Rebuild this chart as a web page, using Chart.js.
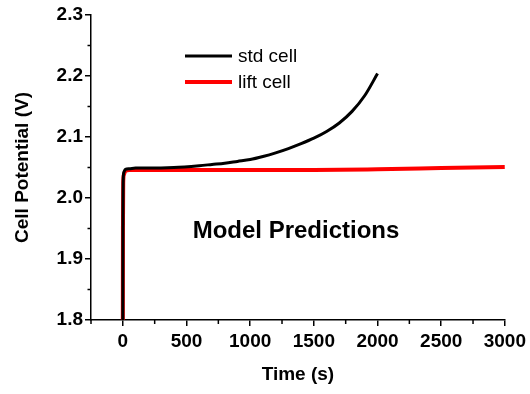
<!DOCTYPE html>
<html>
<head>
<meta charset="utf-8">
<script src="https://cdn.jsdelivr.net/npm/chart.js@4.4.0/dist/chart.umd.min.js"></script>
<style>
  html, body { margin: 0; padding: 0; background: #fff; }
  #wrap { width: 530px; height: 394px; }
</style>
</head>
<body>
<div id="wrap"><canvas id="grafica"></canvas></div>
<script>
// valores
const tiempoStd = [0, 1, 3, 8, 20, 50, 100, 200, 400, 600, 700, 800, 900, 1000, 1100, 1200, 1300, 1400, 1500, 1600, 1700, 1800, 1900, 2000];
const potencialStd = [1.80, 1.96, 2.030, 2.042, 2.047, 2.048, 2.049, 2.049, 2.050, 2.053, 2.055, 2.057, 2.060, 2.063, 2.068, 2.074, 2.081, 2.089, 2.098, 2.109, 2.123, 2.142, 2.168, 2.204];
const tiempoLift = [0, 1, 3, 8, 20, 50, 100, 500, 1000, 1500, 2000, 2500, 3000];
const potencialLift = [1.80, 1.95, 2.025, 2.038, 2.044, 2.046, 2.046, 2.046, 2.046, 2.046, 2.047, 2.049, 2.051];
const ticksX = [0, 500, 1000, 1500, 2000, 2500, 3000];
const ticksY = [1.8, 1.9, 2.0, 2.1, 2.2, 2.3];
const etiquetas = ["std cell", "lift cell"];
const colores = ["#000000", "#ff0000"];
const anchos = [3, 4];

const fuente = "'Liberation Sans', Arial, sans-serif";

const puntos = (xs, ys) => xs.map((x, i) => ({ x: x, y: ys[i] }));

// ticks menores, leyenda y texto
const extras = {
  id: 'extras',
  afterDraw(chart) {
    const ctx = chart.ctx;
    const sx = chart.scales.x;
    const sy = chart.scales.y;
    const area = chart.chartArea;
    ctx.save();
    ctx.strokeStyle = '#000';
    ctx.lineWidth = 1.5;
    for (let i = 0; i < ticksX.length; i++) {
      const v = ticksX[i] - 250;
      const px = sx.getPixelForValue(v);
      ctx.beginPath();
      ctx.moveTo(px, area.bottom);
      ctx.lineTo(px, area.bottom + 4);
      ctx.stroke();
    }
    for (let i = 0; i < ticksY.length - 1; i++) {
      const v = (ticksY[i] + ticksY[i + 1]) / 2;
      const py = sy.getPixelForValue(v);
      ctx.beginPath();
      ctx.moveTo(area.left, py);
      ctx.lineTo(area.left - 3.5, py);
      ctx.stroke();
    }
    // leyenda
    const filas = [56, 82];
    ctx.font = '19px ' + fuente;
    ctx.textBaseline = 'middle';
    ctx.textAlign = 'left';
    for (let i = 0; i < etiquetas.length; i++) {
      ctx.strokeStyle = colores[i];
      ctx.lineWidth = anchos[i];
      ctx.beginPath();
      ctx.moveTo(185, filas[i]);
      ctx.lineTo(232, filas[i]);
      ctx.stroke();
      ctx.fillStyle = '#000';
      ctx.fillText(etiquetas[i], 238, filas[i] + 1);
    }
    ctx.font = 'bold 24px ' + fuente;
    ctx.textAlign = 'center';
    ctx.fillText('Model Predictions', 296, 231);
    ctx.restore();
  }
};

new Chart(document.getElementById('grafica'), {
  type: 'line',
  data: {
    datasets: [{
      label: etiquetas[0],
      data: puntos(tiempoStd, potencialStd),
      borderColor: colores[0],
      borderWidth: anchos[0],
      pointRadius: 0,
      fill: false,
      cubicInterpolationMode: 'monotone'
    }, {
      label: etiquetas[1],
      data: puntos(tiempoLift, potencialLift),
      borderColor: colores[1],
      borderWidth: anchos[1],
      pointRadius: 0,
      fill: false,
      cubicInterpolationMode: 'monotone'
    }]
  },
  options: {
    responsive: true,
    maintainAspectRatio: false,
    animation: false,
    layout: { padding: { top: 15, right: 25, left: 0, bottom: 0 } },
    plugins: {
      legend: { display: false },
      tooltip: { enabled: false }
    },
    scales: {
      x: {
        type: 'linear',
        min: -250,
        max: 3000,
        afterBuildTicks: s => { s.ticks = ticksX.map(v => ({ value: v })); },
        afterFit: s => { s.height = 74; },
        border: { color: '#000', width: 1.5 },
        grid: { drawOnChartArea: false, drawTicks: true, tickLength: 6, tickColor: '#000', lineWidth: 1.5 },
        ticks: { color: '#000', padding: 4, maxRotation: 0, font: { family: fuente, size: 19, weight: 'bold' }, callback: v => String(v) },
        title: { display: true, text: 'Time (s)', color: '#000', padding: { top: 0, bottom: 8 }, font: { family: fuente, size: 19, weight: 'bold' } }
      },
      y: {
        min: 1.8,
        max: 2.3,
        afterBuildTicks: s => { s.ticks = ticksY.map(v => ({ value: v })); },
        afterFit: s => { s.width = 91; },
        border: { color: '#000', width: 1.5 },
        grid: { drawOnChartArea: false, drawTicks: true, tickLength: 6, tickColor: '#000', lineWidth: 1.5 },
        ticks: { color: '#000', padding: 2, font: { family: fuente, size: 19, weight: 'bold' }, callback: v => v.toFixed(1) },
        title: { display: true, text: 'Cell Potential (V)', color: '#000', padding: { top: 11, bottom: 0 }, font: { family: fuente, size: 19, weight: 'bold' } }
      }
    }
  },
  plugins: [extras]
});
</script>
</body>
</html>
